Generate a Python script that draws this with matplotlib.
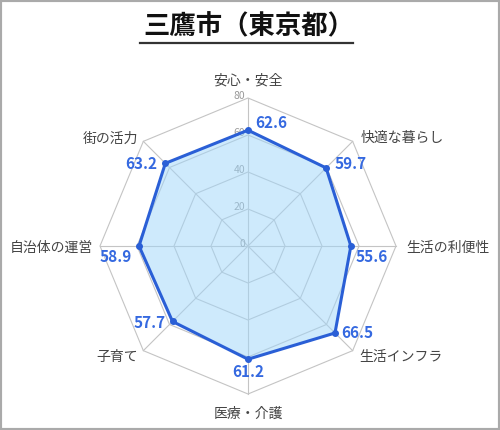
import numpy as np
import matplotlib
matplotlib.use("Agg")
import matplotlib.pyplot as plt
from matplotlib.patches import Rectangle, Polygon
from matplotlib.lines import Line2D

plt.rcParams['font.family'] = ['Noto Sans CJK JP', 'DejaVu Sans']

# ==============
# データ
# ==============
title = "三鷹市（東京都）"
categories = ["安心・安全", "快適な暮らし", "生活の利便性", "生活インフラ",
              "医療・介護", "子育て", "自治体の運営", "街の活力"]
values = [62.6, 59.7, 55.6, 66.5, 61.2, 57.7, 58.9, 63.2]
grid_levels = [0, 20, 40, 60, 80]

# ラベル位置 (pixel offset)
value_offsets = [(23, 7), (25, 4), (21, -11), (22, 0),
                 (0, -13), (-23, -2), (-23, -11), (-24, -1)]
cat_offsets = [(0, 17, "center"), (8, 4, "left"), (10, -2, "left"), (7, -6, "left"),
               (0, -20, "center"), (-5, -6, "right"), (-7, -2, "right"), (-5, 3, "right")]

line_color = "#2a5fd6"
fill_color = "#9fd6fa"
grid_color = "#c4c4c4"

# ==============
# 座標
# ==============
n = len(categories)
angles = np.arange(n) * 2 * np.pi / n
px_per_unit = 148 / 80
cx, cy = 248, 246


def to_xy(r, a):
    return r * np.sin(a), r * np.cos(a)


fig = plt.figure(figsize=(5, 4.3), dpi=100)
ax = fig.add_axes([0, 0, 1, 1])
ax.set_xlim(-cx / px_per_unit, (500 - cx) / px_per_unit)
ax.set_ylim(-(430 - cy) / px_per_unit, cy / px_per_unit)
ax.axis("off")

# グリッド
for lv in grid_levels[1:]:
    xs, ys = to_xy(lv, angles)
    ax.add_patch(Polygon(np.column_stack([xs, ys]), closed=True, fill=False,
                         edgecolor=grid_color, lw=0.8, zorder=1))
for a in angles:
    x, y = to_xy(grid_levels[-1], a)
    ax.plot([0, x], [0, y], color=grid_color, lw=0.8, zorder=1)

# 目盛り
for lv in grid_levels:
    ax.annotate(str(lv), (0, lv), xytext=(-3, 2), textcoords="offset pixels",
                ha="right", va="center", fontsize=7.5, color="#999999", zorder=2)

# データ
vx, vy = to_xy(np.array(values), angles)
ax.fill(vx, vy, color=fill_color, alpha=0.5, lw=0, zorder=3)
ax.plot(np.append(vx, vx[0]), np.append(vy, vy[0]), color=line_color, lw=2.2,
        zorder=4)
ax.plot(vx, vy, "o", color=line_color, ms=4, zorder=5)

for v, x, y, (dx, dy) in zip(values, vx, vy, value_offsets):
    ax.annotate(f"{v:.1f}", (x, y), xytext=(dx, dy), textcoords="offset pixels",
                ha="center", va="center", fontsize=11, fontweight="bold",
                color="#3569e0", zorder=6)

for c, a, (dx, dy, ha) in zip(categories, angles, cat_offsets):
    x, y = to_xy(grid_levels[-1], a)
    ax.annotate(c, (x, y), xytext=(dx, dy), textcoords="offset pixels",
                ha=ha, va="center", fontsize=10, color="#444444")

# タイトル
fig.text(249 / 500, 1 - 27 / 430, title, ha="center", va="center",
         fontsize=19, fontweight="bold", color="#111111")
fig.add_artist(Line2D([140 / 500, 353 / 500], [1 - 43 / 430, 1 - 43 / 430],
                      transform=fig.transFigure, color="#333333", lw=1.6))

# 枠
fig.add_artist(Rectangle((0, 0), 1, 1, transform=fig.transFigure, fill=False,
                         edgecolor="#aaaaaa", lw=3))

fig.savefig("out.png", dpi=100)
plt.close(fig)
